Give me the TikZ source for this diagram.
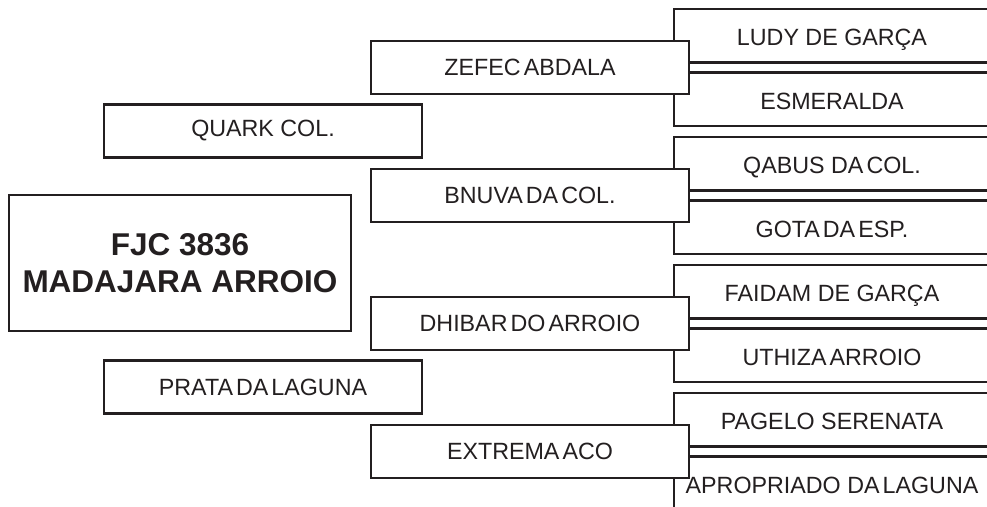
\documentclass[tikz,border=0pt]{standalone}
\usepackage{fontspec}
\setmainfont{Liberation Sans}
\newfontfamily\labelfont[FakeStretch=0.99]{Liberation Sans}
\newcommand{\tsp}{\hspace{0.13em}}
\definecolor{ink}{HTML}{231F20}
\begin{document}
\begin{tikzpicture}[x=1pt,y=-1pt,
  line width=2.5pt, color=ink,
  namebox/.style={draw=ink, fill=white, text=ink, line width=2.5pt, inner sep=0pt,
    minimum width=318pt, minimum height=53pt,
    font=\labelfont\fontsize{23.5}{26}\selectfont},
  mainbox/.style={draw=ink, fill=white, text=ink, line width=2.5pt, inner sep=0pt,
    minimum width=342pt, minimum height=136pt, align=center,
    font=\fontsize{31.5}{37}\selectfont\bfseries},
  nametext/.style={inner sep=0pt, anchor=base, text=ink,
    font=\labelfont\fontsize{23.5}{26}\selectfont}]
\useasboundingbox (0,0) rectangle (987,506);
% great-grandparent brackets
\draw (987,9) -- (674,9) -- (674,126) -- (987,126);
\draw (987,137) -- (674,137) -- (674,254) -- (987,254);
\draw (987,265) -- (674,265) -- (674,382) -- (987,382);
\draw (987,393) -- (674,393) -- (674,512);
% main
\node[mainbox] (main) at (180,263) {FJC 3836\\MADAJARA ARROIO};
% parents
\node[namebox] (quark) at (263,131) {QUARK COL.};
\node[namebox] (prata) at (263,387) {PRATA\tsp DA\tsp LAGUNA};
% grandparents
\node[namebox] (zefec) at (530,67.5) {ZEFEC\tsp ABDALA};
\node[namebox] (bnuva) at (530,195.5) {BNUVA\tsp DA\tsp COL.};
\node[namebox] (dhibar) at (530,323.5) {DHIBAR\tsp DO\tsp ARROIO};
\node[namebox] (extrema) at (530,451.5) {EXTREMA\tsp ACO};
% great-grandparents
\node[nametext] (ludy) at (832,45) {LUDY DE GARÇA};
\node[nametext] (esme) at (832,109) {ESMERALDA};
\node[nametext] (qabus) at (832,173) {QABUS DA\tsp COL.};
\node[nametext] (gota) at (832,237) {GOTA\tsp DA\tsp ESP.};
\node[nametext] (faidam) at (832,301) {FAIDAM DE GARÇA};
\node[nametext] (uthiza) at (832,365) {UTHIZA\tsp ARROIO};
\node[nametext] (pagelo) at (832,429) {PAGELO SERENATA};
\node[nametext] (aprop) at (832,493) {APROPRIADO DA\tsp LAGUNA};
% double separators
\foreach \g in {zefec,bnuva,dhibar,extrema}{
  \coordinate (\g a) at ([yshift=5pt]\g.east);
  \coordinate (\g b) at ([yshift=-5pt]\g.east);
  \coordinate (\g ae) at (987,0 |- \g a);
  \coordinate (\g be) at (987,0 |- \g b);
  \draw (\g a) -- (\g ae);
  \draw (\g b) -- (\g be);
}
\end{tikzpicture}
\end{document}
